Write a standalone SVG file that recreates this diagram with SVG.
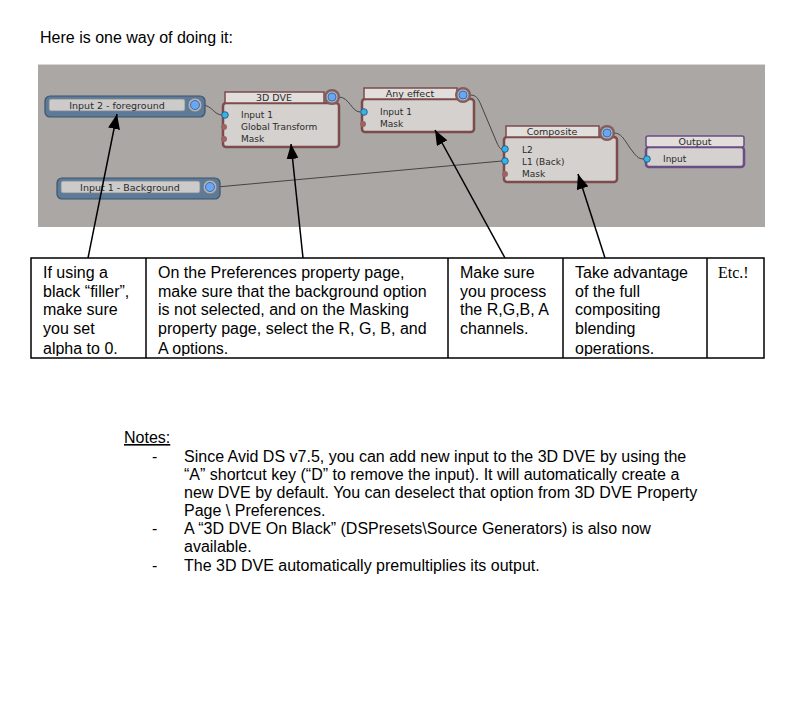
<svg xmlns="http://www.w3.org/2000/svg" width="790" height="704" viewBox="0 0 790 704">
<style>
.t{font-family:"Liberation Sans",Arial,sans-serif;font-size:16px;fill:#000}
.n{font-family:"DejaVu Sans","Liberation Sans",sans-serif;font-size:9px;fill:#2a2a2a}
.nt{font-family:"DejaVu Sans","Liberation Sans",sans-serif;font-size:9.5px;fill:#2a2a2a;text-anchor:middle}
.frame{fill:#d5d1cf;stroke:#7c4c4c;stroke-width:2.5}
.title{fill:#e1dedc;stroke:#7c4c4c;stroke-width:1.5}
.pframe{fill:#d5d1cf;stroke:#6a4d84;stroke-width:2.5}
.ptitle{fill:#e1dedc;stroke:#6a4d84;stroke-width:1.5}
.ring{fill:#8a5858}
.ring2{fill:#aeb2ba;stroke:#6b6f78;stroke-width:0.8}
.core{fill:#6aa6f2;stroke:#2f5f9f;stroke-width:0.8}
.in{fill:#35b3ea;stroke:#1e4f70;stroke-width:0.8}
.bump{fill:#9a6464}
.bar{fill:#5d7b98;stroke:#3c546c;stroke-width:1.2}
.lbl{fill:#cdcbca;stroke:#7f8790;stroke-width:0.8}
.wire{fill:none;stroke:#444;stroke-width:1}
.arr{fill:none;stroke:#000;stroke-width:1.5;marker-end:url(#ah)}
.cell{fill:none;stroke:#000;stroke-width:1.5}
</style>
<defs>
<marker id="ah" markerUnits="userSpaceOnUse" markerWidth="15" markerHeight="12" viewBox="0 0 15 12" refX="15" refY="6" orient="auto">
<path d="M0,0 L15,6 L0,12 z" fill="#000"/>
</marker>
<clipPath id="tbl"><rect x="31" y="258" width="733" height="98"/></clipPath>
</defs>
<rect width="790" height="704" fill="#fff"/>
<text class="t" x="40" y="43">Here is one way of doing it:</text>

<rect id="panel" x="38" y="64" width="727" height="163" fill="#aba7a4"/>
<line x1="38" y1="64.5" x2="765" y2="64.5" stroke="#d8d6d4" stroke-width="1"/>

<g id="connectors">
<path class="wire" d="M202,105 C212,105 214,115 222,115"/>
<path class="wire" d="M339,97 C349,97 352,112 360,112"/>
<path class="wire" d="M470,95 C476,95 478,98 481,105 L497,143 C499,147 500,149 502,149"/>
<path class="wire" d="M217,187 L502,161"/>
<path class="wire" d="M614,133 C621,133 624,139 630,148 C636,156 638,159 644,159"/>
</g>

<g id="input2">
<rect class="bar" x="45" y="96" width="160" height="21" rx="5"/>
<rect class="lbl" x="49" y="99" width="136" height="12" rx="2"/>
<text class="nt" x="117" y="108.5">Input 2 - foreground</text>
<circle class="ring2" cx="195" cy="105" r="7"/>
<circle class="core" cx="195" cy="105" r="4.5"/>
</g>

<g id="input1">
<rect class="bar" x="57" y="178" width="163" height="21" rx="5"/>
<rect class="lbl" x="61" y="181" width="139" height="12" rx="2"/>
<text class="nt" x="130" y="190.5">Input 1 - Background</text>
<circle class="ring2" cx="210" cy="187" r="7"/>
<circle class="core" cx="210" cy="187" r="4.5"/>
</g>

<g id="dve">
<rect class="frame" x="223" y="103" width="116" height="44" rx="3"/>
<rect class="title" x="225" y="92" width="99" height="11"/>
<text class="nt" x="274" y="101">3D DVE</text>
<circle class="ring" cx="332" cy="97" r="8"/>
<circle class="ring2" cx="332" cy="97" r="6"/>
<circle class="core" cx="332" cy="97" r="4"/>
<circle class="bump" cx="224" cy="127" r="3"/>
<circle class="bump" cx="224" cy="139" r="3"/>
<circle class="in" cx="225" cy="115" r="3.3"/>
<text class="n" x="241" y="118">Input 1</text>
<text class="n" x="241" y="130">Global Transform</text>
<text class="n" x="241" y="142">Mask</text>
</g>

<g id="anyeffect">
<rect class="frame" x="362" y="99" width="112" height="33" rx="3"/>
<rect class="title" x="364" y="88" width="93" height="11"/>
<text class="nt" x="410" y="97">Any effect</text>
<circle class="ring" cx="463" cy="95" r="8"/>
<circle class="ring2" cx="463" cy="95" r="6"/>
<circle class="core" cx="463" cy="95" r="4"/>
<circle class="bump" cx="363" cy="124" r="3"/>
<circle class="in" cx="364" cy="112" r="3.3"/>
<text class="n" x="380" y="115">Input 1</text>
<text class="n" x="380" y="127">Mask</text>
</g>

<g id="composite">
<rect class="frame" x="504" y="137" width="113" height="45" rx="3"/>
<rect class="title" x="506" y="126" width="93" height="11"/>
<text class="nt" x="552" y="135">Composite</text>
<circle class="ring" cx="607" cy="133" r="8"/>
<circle class="ring2" cx="607" cy="133" r="6"/>
<circle class="core" cx="607" cy="133" r="4"/>
<circle class="bump" cx="505" cy="174" r="3"/>
<circle class="in" cx="505" cy="149" r="3.3"/>
<circle class="in" cx="505" cy="161" r="3.3"/>
<text class="n" x="522" y="153">L2</text>
<text class="n" x="522" y="165">L1 (Back)</text>
<text class="n" x="522" y="177">Mask</text>
</g>

<g id="output">
<rect class="pframe" x="646" y="147" width="98" height="20" rx="3"/>
<rect class="ptitle" x="646" y="136" width="98" height="11" rx="2"/>
<text class="nt" x="695" y="145">Output</text>
<circle class="in" cx="647" cy="159" r="3.3"/>
<text class="n" x="663" y="162">Input</text>
</g>

<g id="arrows">
<path class="arr" d="M88,258 L117,114"/>
<path class="arr" d="M303,258 L291,144"/>
<path class="arr" d="M505,258 L435,130"/>
<path class="arr" d="M605,258 L578,174"/>
</g>

<g id="table">
<rect class="cell" x="31" y="258" width="733" height="100" fill="#fff"/>
<line class="cell" x1="146" y1="258" x2="146" y2="358"/>
<line class="cell" x1="448" y1="258" x2="448" y2="358"/>
<line class="cell" x1="563" y1="258" x2="563" y2="358"/>
<line class="cell" x1="707" y1="258" x2="707" y2="358"/>
<g clip-path="url(#tbl)">
<text class="t" x="43" y="278">If using a</text>
<text class="t" x="43" y="296.5">black “filler”,</text>
<text class="t" x="43" y="315">make sure</text>
<text class="t" x="43" y="333.5">you set</text>
<text class="t" x="43" y="353.5">alpha to 0.</text>
<text class="t" x="158" y="278">On the Preferences property page,</text>
<text class="t" x="158" y="296.5">make sure that the background option</text>
<text class="t" x="158" y="315">is not selected, and on the Masking</text>
<text class="t" x="158" y="333.5">property page, select the R, G, B, and</text>
<text class="t" x="158" y="353.5">A options.</text>
<text class="t" x="460" y="278">Make sure</text>
<text class="t" x="460" y="296.5">you process</text>
<text class="t" x="460" y="315">the R,G,B, A</text>
<text class="t" x="460" y="333.5">channels.</text>
<text class="t" x="575" y="278">Take advantage</text>
<text class="t" x="575" y="296.5">of the full</text>
<text class="t" x="575" y="315">compositing</text>
<text class="t" x="575" y="333.5">blending</text>
<text class="t" x="575" y="353.5">operations.</text>
<text x="718" y="278" font-family="'Liberation Serif','Times New Roman',serif" font-size="16">Etc.!</text>
</g>
</g>

<g id="notes">
<text class="t" x="124" y="443" text-decoration="underline">Notes:</text>
<text class="t" x="152" y="462">-</text>
<text class="t" x="184" y="462">Since Avid DS v7.5, you can add new input to the 3D DVE by using the</text>
<text class="t" x="184" y="480">“A” shortcut key (“D” to remove the input). It will automatically create a</text>
<text class="t" x="184" y="498">new DVE by default. You can deselect that option from 3D DVE Property</text>
<text class="t" x="184" y="516">Page \ Preferences.</text>
<text class="t" x="152" y="534">-</text>
<text class="t" x="184" y="534">A “3D DVE On Black” (DSPresets\Source Generators) is also now</text>
<text class="t" x="184" y="552">available.</text>
<text class="t" x="152" y="571">-</text>
<text class="t" x="184" y="571">The 3D DVE automatically premultiplies its output.</text>
</g>
</svg>
